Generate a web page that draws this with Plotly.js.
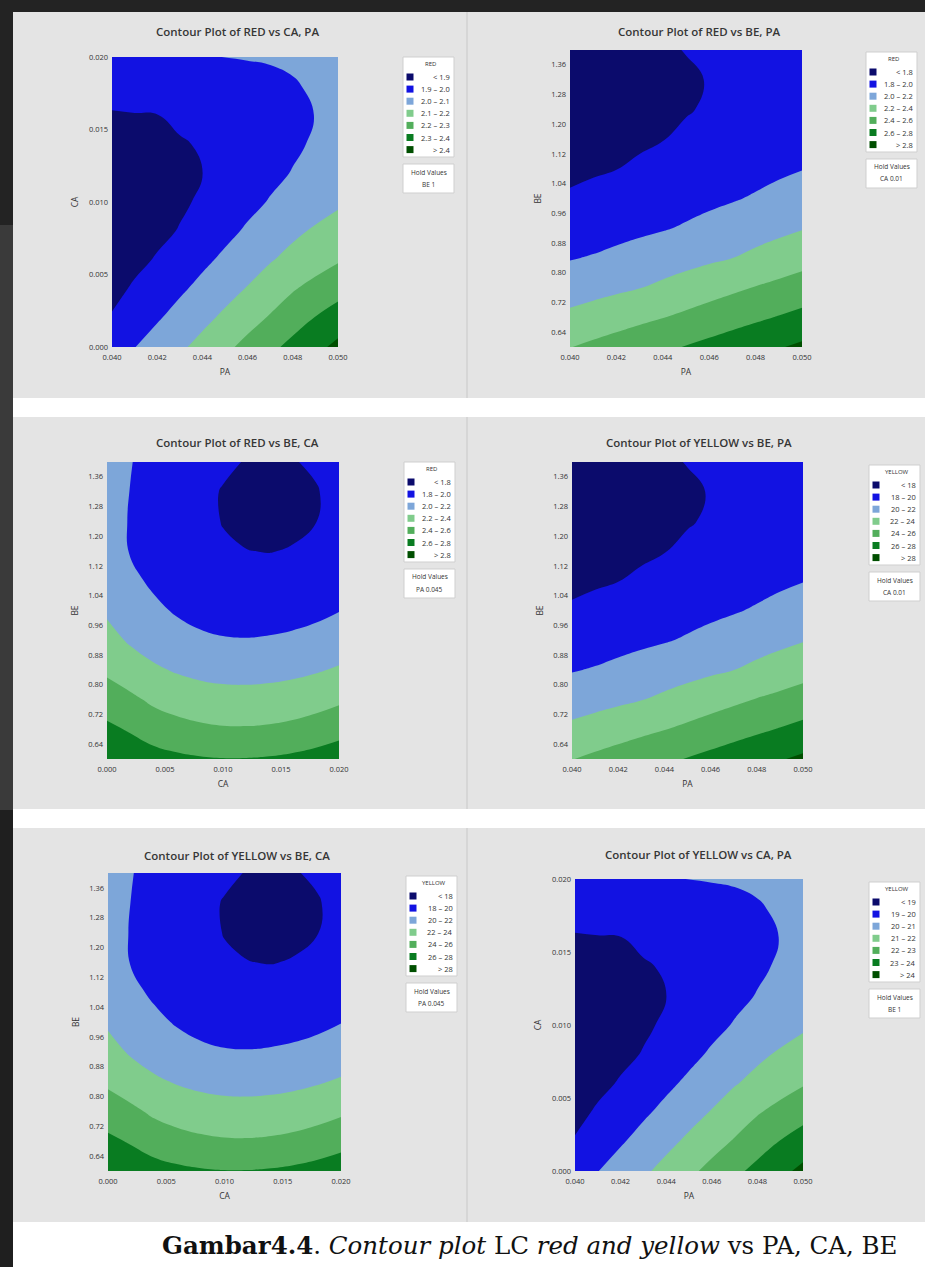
<!DOCTYPE html>
<html>
<head>
<meta charset="utf-8">
<script src="https://cdn.plot.ly/plotly-3.0.1.min.js"></script>
<style>
html,body{margin:0;padding:0;background:#ffffff;}
#chart{width:925px;height:1267px;}
</style>
</head>
<body>
<div id="chart"></div>
<script>
// ---------- grid coordinates ----------
const PA = [0.040,0.041,0.042,0.043,0.044,0.045,0.046,0.047,0.048,0.049,0.050];
const CA = [0.000,0.002,0.004,0.006,0.008,0.010,0.012,0.014,0.016,0.018,0.020];
const BE = [0.60,0.68,0.76,0.84,0.92,1.00,1.08,1.16,1.24,1.32,1.40];

// ---------- tick labels ----------
const PA_ticks = [0.040,0.042,0.044,0.046,0.048,0.050];
const PA_tickText = ['0.040','0.042','0.044','0.046','0.048','0.050'];
const CA_ticks = [0.000,0.005,0.010,0.015,0.020];
const CA_tickText = ['0.000','0.005','0.010','0.015','0.020'];
const BE_ticks = [0.64,0.72,0.80,0.88,0.96,1.04,1.12,1.20,1.28,1.36];
const BE_tickText = ['0.64','0.72','0.80','0.88','0.96','1.04','1.12','1.20','1.28','1.36'];

// ---------- response values (rows = y values) ----------
// RED vs CA, PA (hold BE 1); rows CA, columns PA
const red_CA_PA = [
 [1.948,1.998,2.041,2.084,2.130,2.179,2.228,2.278,2.327,2.374,2.424],
 [1.907,1.949,1.991,2.033,2.075,2.119,2.164,2.209,2.257,2.304,2.345],
 [1.876,1.911,1.949,1.986,2.025,2.065,2.106,2.149,2.193,2.230,2.266],
 [1.854,1.880,1.907,1.944,1.981,2.018,2.056,2.094,2.127,2.160,2.192],
 [1.842,1.862,1.882,1.904,1.940,1.976,2.012,2.047,2.082,2.111,2.135],
 [1.840,1.856,1.872,1.889,1.910,1.942,1.975,2.006,2.033,2.060,2.087],
 [1.848,1.861,1.874,1.886,1.899,1.925,1.951,1.978,2.004,2.032,2.060],
 [1.866,1.875,1.884,1.894,1.906,1.926,1.946,1.966,1.986,2.010,2.040],
 [1.894,1.897,1.899,1.914,1.929,1.943,1.957,1.972,1.986,2.001,2.030],
 [1.931,1.939,1.947,1.955,1.963,1.971,1.979,1.987,1.995,2.008,2.028],
 [1.978,1.982,1.986,1.990,1.994,2.001,2.003,2.005,2.010,2.020,2.035]
];
// RED vs BE, PA (hold CA 0.01); rows BE, columns PA
const red_BE_PA = [
 [2.395,2.437,2.479,2.522,2.565,2.608,2.653,2.698,2.743,2.787,2.835],
 [2.245,2.283,2.320,2.358,2.395,2.438,2.481,2.524,2.567,2.610,2.655],
 [2.105,2.135,2.165,2.195,2.236,2.279,2.323,2.366,2.408,2.447,2.485],
 [1.990,2.012,2.043,2.074,2.106,2.137,2.169,2.199,2.243,2.287,2.330],
 [1.895,1.918,1.941,1.965,1.988,2.017,2.051,2.086,2.121,2.155,2.190],
 [1.820,1.844,1.868,1.892,1.916,1.940,1.963,1.987,2.016,2.051,2.085],
 [1.765,1.781,1.798,1.821,1.846,1.871,1.895,1.920,1.945,1.970,1.995],
 [1.725,1.743,1.761,1.779,1.797,1.819,1.841,1.863,1.885,1.908,1.930],
 [1.700,1.719,1.737,1.756,1.774,1.793,1.811,1.828,1.845,1.863,1.880],
 [1.690,1.709,1.729,1.748,1.768,1.787,1.804,1.815,1.827,1.838,1.850],
 [1.695,1.718,1.742,1.765,1.788,1.803,1.810,1.816,1.822,1.829,1.835]
];
// RED vs BE, CA (hold PA 0.045); rows BE, columns CA
const red_BE_CA = [
 [2.770,2.715,2.672,2.639,2.617,2.606,2.606,2.617,2.639,2.672,2.715],
 [2.640,2.582,2.510,2.465,2.435,2.418,2.416,2.426,2.448,2.483,2.530],
 [2.500,2.440,2.365,2.319,2.288,2.271,2.268,2.276,2.296,2.328,2.370],
 [2.365,2.290,2.230,2.183,2.152,2.135,2.131,2.139,2.156,2.183,2.220],
 [2.260,2.179,2.114,2.064,2.030,2.012,2.008,2.016,2.033,2.059,2.095],
 [2.175,2.098,2.034,1.984,1.948,1.925,1.915,1.919,1.933,1.958,1.995],
 [2.110,2.036,1.974,1.924,1.886,1.861,1.847,1.846,1.858,1.882,1.920],
 [2.065,1.993,1.933,1.884,1.845,1.818,1.802,1.797,1.806,1.830,1.870],
 [2.035,1.995,1.944,1.893,1.841,1.795,1.778,1.772,1.779,1.798,1.840],
 [2.020,1.999,1.945,1.891,1.837,1.792,1.774,1.768,1.775,1.794,1.830],
 [2.015,2.004,1.967,1.920,1.872,1.825,1.793,1.788,1.795,1.813,1.835]
];
// YELLOW vs BE, PA (hold CA 0.01)
const yellow_BE_PA = [
 [23.95,24.37,24.79,25.22,25.65,26.08,26.53,26.98,27.43,27.87,28.35],
 [22.45,22.83,23.20,23.58,23.95,24.38,24.81,25.24,25.67,26.10,26.55],
 [21.05,21.35,21.65,21.95,22.36,22.79,23.23,23.66,24.08,24.47,24.85],
 [19.90,20.12,20.43,20.74,21.06,21.37,21.69,21.99,22.43,22.87,23.30],
 [18.95,19.18,19.41,19.65,19.88,20.17,20.51,20.86,21.21,21.55,21.90],
 [18.20,18.44,18.68,18.92,19.16,19.40,19.63,19.87,20.16,20.51,20.85],
 [17.65,17.81,17.98,18.21,18.46,18.71,18.95,19.20,19.45,19.70,19.95],
 [17.25,17.43,17.61,17.79,17.97,18.19,18.41,18.63,18.85,19.08,19.30],
 [17.00,17.19,17.37,17.56,17.74,17.93,18.11,18.28,18.45,18.63,18.80],
 [16.90,17.09,17.29,17.48,17.68,17.87,18.04,18.15,18.27,18.38,18.50],
 [16.95,17.18,17.42,17.65,17.88,18.03,18.10,18.16,18.22,18.29,18.35]
];
// YELLOW vs BE, CA (hold PA 0.045)
const yellow_BE_CA = [
 [27.70,27.15,26.72,26.39,26.17,26.06,26.06,26.17,26.39,26.72,27.15],
 [26.40,25.82,25.10,24.65,24.35,24.18,24.16,24.26,24.48,24.83,25.30],
 [25.00,24.40,23.65,23.19,22.88,22.71,22.68,22.76,22.96,23.28,23.70],
 [23.65,22.90,22.30,21.83,21.52,21.35,21.31,21.39,21.56,21.83,22.20],
 [22.60,21.79,21.14,20.64,20.30,20.12,20.08,20.16,20.33,20.59,20.95],
 [21.75,20.98,20.34,19.84,19.48,19.25,19.15,19.19,19.33,19.58,19.95],
 [21.10,20.36,19.74,19.24,18.86,18.61,18.47,18.46,18.58,18.82,19.20],
 [20.65,19.93,19.33,18.84,18.45,18.18,18.02,17.97,18.06,18.30,18.70],
 [20.35,19.95,19.44,18.93,18.41,17.95,17.78,17.72,17.79,17.98,18.40],
 [20.20,19.99,19.45,18.91,18.37,17.92,17.74,17.68,17.75,17.94,18.30],
 [20.15,20.04,19.67,19.20,18.72,18.25,17.93,17.88,17.95,18.13,18.35]
];
// YELLOW vs CA, PA (hold BE 1)
const yellow_CA_PA = [
 [19.48,19.98,20.41,20.84,21.30,21.79,22.28,22.78,23.27,23.74,24.24],
 [19.07,19.49,19.91,20.33,20.75,21.19,21.64,22.09,22.57,23.04,23.45],
 [18.76,19.11,19.49,19.86,20.25,20.65,21.06,21.49,21.93,22.30,22.66],
 [18.54,18.80,19.07,19.44,19.81,20.18,20.56,20.94,21.27,21.60,21.92],
 [18.42,18.62,18.82,19.04,19.40,19.76,20.12,20.47,20.82,21.11,21.35],
 [18.40,18.56,18.72,18.89,19.10,19.42,19.75,20.06,20.33,20.60,20.87],
 [18.48,18.61,18.74,18.86,18.99,19.25,19.51,19.78,20.04,20.32,20.60],
 [18.66,18.75,18.84,18.94,19.06,19.26,19.46,19.66,19.86,20.10,20.40],
 [18.94,18.97,18.99,19.14,19.29,19.43,19.57,19.72,19.86,20.01,20.30],
 [19.31,19.39,19.47,19.55,19.63,19.71,19.79,19.87,19.95,20.08,20.28],
 [19.78,19.82,19.86,19.90,19.94,20.01,20.03,20.05,20.10,20.20,20.35]
];

// ---------- contour levels [start, end, size] ----------
const levels_red_CA_PA = [1.9, 2.4, 0.1];
const levels_red_BE = [1.8, 2.8, 0.2];
const levels_yellow_BE = [18, 28, 2];
const levels_yellow_CA_PA = [19, 24, 1];

// ---------- legend labels ----------
const labels_red_CA_PA = ['< 1.9','1.9 – 2.0','2.0 – 2.1','2.1 – 2.2','2.2 – 2.3','2.3 – 2.4','> 2.4'];
const labels_red_BE = ['< 1.8','1.8 – 2.0','2.0 – 2.2','2.2 – 2.4','2.4 – 2.6','2.6 – 2.8','> 2.8'];
const labels_yellow_BE = ['< 18','18 – 20','20 – 22','22 – 24','24 – 26','26 – 28','> 28'];
const labels_yellow_CA_PA = ['< 19','19 – 20','20 – 21','21 – 22','22 – 23','23 – 24','> 24'];

const bandColors = ['#0b0b6c','#1212e2','#7da6d9','#80cc8c','#52ae5b','#097c21','#004f00'];

// ---------- layout helpers (pixel -> paper) ----------
const W = 925, H = 1267;
const px = x => x / W;
const py = y => 1 - y / H;

function steppedScale(colors){
  const n = colors.length, s = [];
  colors.forEach((c,i)=>{ s.push([i/n, c]); s.push([(i+1)/n, c]); });
  return s;
}

const panels = [
  {x:PA, y:CA, z:red_CA_PA, lev:levels_red_CA_PA, xt:[PA_ticks,PA_tickText], yt:[CA_ticks,CA_tickText],
   xr:[0.040,0.050], yr:[0,0.020], xname:'PA', yname:'CA',
   dom:[112,338,57,347], title:'Contour Plot of RED vs CA, PA', tpos:[237,32],
   resp:'RED', labels:labels_red_CA_PA, hold:'BE 1', leg:[403,57]},
  {x:PA, y:BE, z:red_BE_PA, lev:levels_red_BE, xt:[PA_ticks,PA_tickText], yt:[BE_ticks,BE_tickText],
   xr:[0.040,0.050], yr:[0.6,1.4], xname:'PA', yname:'BE',
   dom:[570,802,50,347], title:'Contour Plot of RED vs BE, PA', tpos:[699,32],
   resp:'RED', labels:labels_red_BE, hold:'CA 0.01', leg:[866,52]},
  {x:CA, y:BE, z:red_BE_CA, lev:levels_red_BE, xt:[CA_ticks,CA_tickText], yt:[BE_ticks,BE_tickText],
   xr:[0,0.020], yr:[0.6,1.4], xname:'CA', yname:'BE',
   dom:[107,339,462,759], title:'Contour Plot of RED vs BE, CA', tpos:[237,443],
   resp:'RED', labels:labels_red_BE, hold:'PA 0.045', leg:[404,462]},
  {x:PA, y:BE, z:yellow_BE_PA, lev:levels_yellow_BE, xt:[PA_ticks,PA_tickText], yt:[BE_ticks,BE_tickText],
   xr:[0.040,0.050], yr:[0.6,1.4], xname:'PA', yname:'BE',
   dom:[572,803,462,759], title:'Contour Plot of YELLOW vs BE, PA', tpos:[699,443],
   resp:'YELLOW', labels:labels_yellow_BE, hold:'CA 0.01', leg:[869,465]},
  {x:CA, y:BE, z:yellow_BE_CA, lev:levels_yellow_BE, xt:[CA_ticks,CA_tickText], yt:[BE_ticks,BE_tickText],
   xr:[0,0.020], yr:[0.6,1.4], xname:'CA', yname:'BE',
   dom:[108,341,873,1171], title:'Contour Plot of YELLOW vs BE, CA', tpos:[237,855],
   resp:'YELLOW', labels:labels_yellow_BE, hold:'PA 0.045', leg:[406,876]},
  {x:PA, y:CA, z:yellow_CA_PA, lev:levels_yellow_CA_PA, xt:[PA_ticks,PA_tickText], yt:[CA_ticks,CA_tickText],
   xr:[0.040,0.050], yr:[0,0.020], xname:'PA', yname:'CA',
   dom:[575,803,879,1171], title:'Contour Plot of YELLOW vs CA, PA', tpos:[698,854],
   resp:'YELLOW', labels:labels_yellow_CA_PA, hold:'BE 1', leg:[869,882]}
];

const txt = '#333333';
const FONT = 'Open Sans, Noto Sans, sans-serif';
const tickFont = {family:FONT, size:7.5, color:txt};
const data = [];
const layout = {
  width:W, height:H, margin:{l:0,r:0,t:0,b:0},
  paper_bgcolor:'#ffffff', plot_bgcolor:'#e4e4e4',
  showlegend:false, shapes:[], annotations:[]
};

// page background pieces
layout.shapes.push({type:'rect',xref:'paper',yref:'paper',x0:0,x1:1,y0:py(12),y1:1,fillcolor:'#232323',line:{width:0},layer:'below'});
layout.shapes.push({type:'rect',xref:'paper',yref:'paper',x0:0,x1:px(13),y0:py(225),y1:1,fillcolor:'#232323',line:{width:0},layer:'below'});
layout.shapes.push({type:'rect',xref:'paper',yref:'paper',x0:0,x1:px(13),y0:py(810),y1:py(225),fillcolor:'#3a3a3a',line:{width:0},layer:'below'});
layout.shapes.push({type:'rect',xref:'paper',yref:'paper',x0:0,x1:px(13),y0:0,y1:py(810),fillcolor:'#1f1f1f',line:{width:0},layer:'below'});
[[12,398],[417,809],[828,1222]].forEach(r=>{
  layout.shapes.push({type:'rect',xref:'paper',yref:'paper',x0:px(13),x1:1,y0:py(r[1]),y1:py(r[0]),fillcolor:'#e4e4e4',line:{width:0},layer:'below'});
  layout.shapes.push({type:'line',xref:'paper',yref:'paper',x0:px(467),x1:px(467),y0:py(r[1]),y1:py(r[0]),line:{color:'#d6d6d6',width:2},layer:'below'});
});

panels.forEach((p,i)=>{
  const n = i===0 ? '' : String(i+1);
  const xa = 'x'+n, ya = 'y'+n;
  data.push({
    type:'contour', x:p.x, y:p.y, z:p.z, xaxis:xa, yaxis:ya,
    autocontour:false,
    contours:{start:p.lev[0], end:p.lev[1], size:p.lev[2], coloring:'fill', showlines:false},
    line:{width:0, smoothing:1.3},
    colorscale:steppedScale(bandColors), showscale:false, hoverinfo:'skip'
  });
  layout['xaxis'+n] = {
    domain:[px(p.dom[0]), px(p.dom[1])], anchor:ya, range:p.xr,
    tickvals:p.xt[0], ticktext:p.xt[1], tickfont:tickFont, ticklabelstandoff:4,
    showgrid:false, zeroline:false, showline:false, ticks:'', fixedrange:true,
    title:{text:p.xname, font:{family:FONT, size:8.5, color:txt}, standoff:8}
  };
  layout['yaxis'+n] = {
    domain:[py(p.dom[3]), py(p.dom[2])], anchor:xa, range:p.yr,
    tickvals:p.yt[0], ticktext:p.yt[1], tickfont:tickFont, ticklabelstandoff:3,
    showgrid:false, zeroline:false, showline:false, ticks:'', fixedrange:true,
    title:{text:p.yname, font:{family:FONT, size:8.5, color:txt}, standoff:8}
  };
  // subplot title
  layout.annotations.push({xref:'paper',yref:'paper',x:px(p.tpos[0]),y:py(p.tpos[1]),
    text:p.title, showarrow:false, xanchor:'center', yanchor:'middle',
    font:{family:FONT, size:11.5, color:'#363636', weight:600}});
  // legend box
  const L = p.leg[0], T = p.leg[1], BW = 51;
  layout.shapes.push({type:'rect',xref:'paper',yref:'paper',x0:px(L),x1:px(L+BW),y0:py(T+100),y1:py(T),
    fillcolor:'#ffffff',line:{color:'#cfcfcf',width:1}});
  layout.annotations.push({xref:'paper',yref:'paper',x:px(L+BW/2+2),y:py(T+7),text:p.resp,showarrow:false,
    xanchor:'center',yanchor:'middle',font:{family:FONT,size:6,color:txt}});
  p.labels.forEach((lab,k)=>{
    const cy = T+20+12.1*k;
    layout.shapes.push({type:'rect',xref:'paper',yref:'paper',x0:px(L+3.5),x1:px(L+10.5),y0:py(cy+3.5),y1:py(cy-3.5),
      fillcolor:bandColors[k],line:{width:0}});
    layout.annotations.push({xref:'paper',yref:'paper',x:px(L+BW-2),y:py(cy),text:lab,showarrow:false,
      xanchor:'right',yanchor:'middle',font:{family:FONT,size:7.5,color:txt}});
  });
  // hold values box
  layout.shapes.push({type:'rect',xref:'paper',yref:'paper',x0:px(L),x1:px(L+BW),y0:py(T+136),y1:py(T+107),
    fillcolor:'#ffffff',line:{color:'#cfcfcf',width:1}});
  layout.annotations.push({xref:'paper',yref:'paper',x:px(L+BW/2),y:py(T+115),text:'Hold Values',showarrow:false,
    xanchor:'center',yanchor:'middle',font:{family:FONT,size:6.5,color:txt}});
  layout.annotations.push({xref:'paper',yref:'paper',x:px(L+BW/2),y:py(T+127),text:p.hold,showarrow:false,
    xanchor:'center',yanchor:'middle',font:{family:FONT,size:6.5,color:txt}});
});

// caption
layout.annotations.push({xref:'paper',yref:'paper',x:px(529),y:py(1245),
  text:'<b>Gambar4.4</b>. <i>Contour plot</i> LC <i>red and yellow</i> vs PA, CA, BE',
  showarrow:false, xanchor:'center', yanchor:'middle',
  font:{family:'DejaVu Serif, Liberation Serif, serif', size:24.5, color:'#111111'}});

Plotly.newPlot('chart', data, layout, {displayModeBar:false, staticPlot:true});
</script>
</body>
</html>
